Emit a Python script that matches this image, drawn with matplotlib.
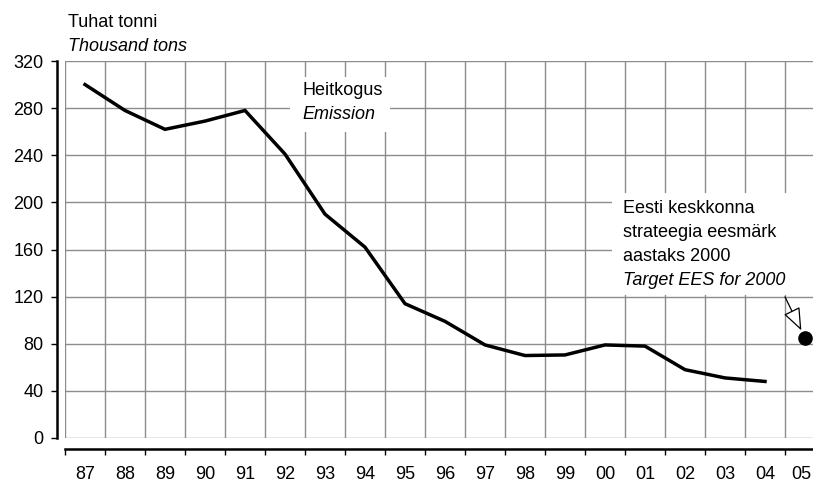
import matplotlib
matplotlib.use("Agg")
import matplotlib.pyplot as plt
import matplotlib.transforms as mtransforms
from matplotlib.patches import Rectangle
from matplotlib.ticker import FixedLocator

plt.rcParams['font.family'] = ['Liberation Sans', 'DejaVu Sans']

years = ['87', '88', '89', '90', '91', '92', '93', '94', '95', '96',
         '97', '98', '99', '00', '01', '02', '03', '04', '05']
emission = [300, 278, 262, 269, 278, 241, 190, 162, 114, 99,
            79, 70, 70.5, 79, 78, 58, 51, 48]
target = 85  # EES target, drawn at 05
y_ticks = [0, 40, 80, 120, 160, 200, 240, 280, 320]

W, H = 813, 482
fig = plt.figure(figsize=(W / 100, H / 100), dpi=100)

def fx(x):
    return x / W

def fy(y):
    return 1 - y / H

# axes box in pixels: x 65..813, y 61..438
ax = fig.add_axes([fx(65), fy(438), fx(813) - fx(65), fy(61) - fy(438)])
ax.set_xlim(-0.5, 18.2)
ax.set_ylim(0, 320)

ax.set_axisbelow(True)
ax.yaxis.set_major_locator(FixedLocator(y_ticks))
ax.xaxis.set_major_locator(FixedLocator([i - 0.5 for i in range(len(years) + 1)]))
ax.xaxis.set_minor_locator(FixedLocator(range(len(years))))
ax.set_xticklabels([], minor=False)
ax.set_xticklabels(years, minor=True)
ax.grid(True, which='major', color='#8c8c8c', linewidth=1.0)

for s in ['top', 'right']:
    ax.spines[s].set_visible(False)
ax.spines['left'].set_position(('outward', 6))
ax.spines['bottom'].set_position(('outward', 8))
ax.spines['left'].set_linewidth(1.8)
ax.spines['bottom'].set_linewidth(1.8)
ax.spines['left'].set_bounds(0, 320)

fs = 13
ax.tick_params(axis='y', which='major', length=4.5, width=1, labelsize=fs, pad=5)
ax.tick_params(axis='x', which='major', length=4.5, width=1)
ax.tick_params(axis='x', which='minor', length=0, labelsize=fs, pad=12.5)

# last label sits at the figure edge, nudge it in a little
last = ax.xaxis.get_minorticklabels()[-1]
last.set_transform(last.get_transform() +
                   mtransforms.ScaledTranslation(-4 / 100, 0, fig.dpi_scale_trans))

# white label boxes over the grid
ax.add_patch(Rectangle((0.301, 0.812), 0.133, 0.146, transform=ax.transAxes,
                       facecolor='white', edgecolor='none', zorder=1))
ax.add_patch(Rectangle((0.731, 0.379), 0.28, 0.271, transform=ax.transAxes,
                       facecolor='white', edgecolor='none', zorder=1, clip_on=False))

ax.plot(range(len(emission)), emission, color='black', linewidth=2.5, zorder=3,
        solid_joinstyle='miter')
ax.plot([18], [target], 'o', color='black', markersize=9.5, zorder=4, clip_on=False)

ax.annotate('', xy=(18, target), xycoords='data',
            xytext=(-20, 41), textcoords='offset pixels',
            arrowprops=dict(arrowstyle='-|>,head_length=1.4,head_width=0.55',
                            facecolor='white', edgecolor='black', linewidth=0.9,
                            shrinkA=0, shrinkB=6),
            zorder=4, annotation_clip=False)

fig.text(fx(68), fy(27), 'Tuhat tonni', fontsize=fs, va='baseline')
fig.text(fx(68), fy(51), 'Thousand tons', fontsize=fs, va='baseline', style='italic')

fig.text(fx(302), fy(95), 'Heitkogus', fontsize=fs, va='baseline', zorder=5)
fig.text(fx(302), fy(119), 'Emission', fontsize=fs, va='baseline', style='italic', zorder=5)

fig.text(fx(623), fy(213), 'Eesti keskkonna', fontsize=fs, va='baseline')
fig.text(fx(623), fy(237), 'strateegia eesmärk', fontsize=fs, va='baseline')
fig.text(fx(623), fy(261), 'aastaks 2000', fontsize=fs, va='baseline')
fig.text(fx(623), fy(285), 'Target EES for 2000', fontsize=fs, va='baseline', style='italic')

fig.savefig('out.png', dpi=100)
